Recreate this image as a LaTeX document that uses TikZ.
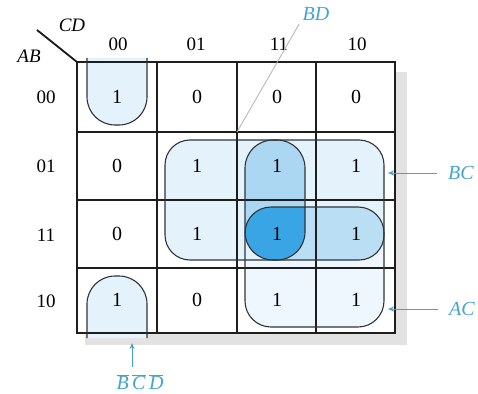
\documentclass[tikz,border=0pt]{standalone}
\usepackage{fontspec}
\setmainfont{Liberation Serif}
\usetikzlibrary{arrows.meta}
\definecolor{gridc}{HTML}{1E1E1E}
\definecolor{loopc}{HTML}{2F3338}
\definecolor{fillA}{HTML}{E4F2FB}
\definecolor{fillB}{HTML}{EDF7FD}
\definecolor{fillV}{HTML}{ABD7F2}
\definecolor{fillH}{HTML}{BADFF5}
\definecolor{fillX}{HTML}{3AA5E5}
\definecolor{labc}{HTML}{45A5CC}
\definecolor{shadc}{HTML}{E2E2E2}
\begin{document}
\begin{tikzpicture}[x=1pt,y=-1pt,
  gridline/.style={draw=gridc,line width=1.3pt},
  loopline/.style={draw=loopc,line width=1.1pt},
  cellnum/.style={font=\fontsize{20}{22}\selectfont},
  axisnum/.style={font=\fontsize{19}{22}\selectfont},
  grplabel/.style={text=labc,font=\fontsize{20}{22}\selectfont\itshape},
  lblarrow/.style={draw=labc,line width=0.9pt,-{Stealth[length=6pt,width=5pt]}}]
\useasboundingbox (0,0) rectangle (478,393);
% shadow
\fill[shadc] (395,72) rectangle (407,345);
\fill[shadc] (85,333) rectangle (407,345);
% fills
\fill[fillB,rounded corners=26pt] (245,207) rectangle (384,327);
\fill[fillA,rounded corners=25pt] (165,140) rectangle (384,260);
\fill[fillV,rounded corners=28pt] (245,140) rectangle (305,260);
\fill[fillH,rounded corners=26pt] (245,207) rectangle (384,260);
\begin{scope}
  \clip[rounded corners=28pt] (245,140) rectangle (305,260);
  \fill[fillX,rounded corners=26pt] (245,207) rectangle (384,260);
\end{scope}
\fill[fillA,rounded corners=28pt] (87,58) -- (87,125) -- (147,125) -- (147,58);
\fill[fillA,rounded corners=28pt] (87,338) -- (87,276) -- (147,276) -- (147,338);
% grid
\foreach \x in {157,237,316} \draw[gridline] (\x,62) -- (\x,333);
\foreach \y in {132,200,268} \draw[gridline] (77,\y) -- (395,\y);
\draw[gridc,line width=1.8pt] (77,62) rectangle (395,333);
% loop outlines
\draw[loopline,rounded corners=25pt] (165,140) rectangle (384,260);
\draw[loopline,rounded corners=28pt] (245,140) rectangle (305,260);
\draw[loopline,rounded corners=26pt] (245,207) rectangle (384,327);
\draw[loopline,rounded corners=28pt] (87,58) -- (87,125) -- (147,125) -- (147,58);
\draw[loopline,rounded corners=28pt] (87,338) -- (87,276) -- (147,276) -- (147,338);
% corner labels
\coordinate (diagA) at (37,30);
\coordinate (corner) at (77,62);
\draw[gridc,line width=1.8pt] (diagA) -- (corner);
\node[font=\fontsize{19}{22}\selectfont\itshape] (CD) at (72,25) {CD};
\node[font=\fontsize{19}{22}\selectfont\itshape] (AB) at (29,56) {AB};
% column labels
\node[axisnum] (col00) at (118,44) {00};
\node[axisnum] (col01) at (196,44) {01};
\node[axisnum] (col11) at (279,44) {11};
\node[axisnum] (col10) at (357,44) {10};
% row labels
\node[axisnum] (row00) at (46,97) {00};
\node[axisnum] (row01) at (46,166) {01};
\node[axisnum] (row11) at (46,235) {11};
\node[axisnum] (row10) at (46,301) {10};
% cells
\node[cellnum] (m00) at (117,97) {1};
\node[cellnum] (m01) at (197,97) {0};
\node[cellnum] (m03) at (277,97) {0};
\node[cellnum] (m02) at (356,97) {0};
\node[cellnum] (m10) at (117,166) {0};
\node[cellnum] (m11) at (197,166) {1};
\node[cellnum] (m13) at (277,166) {1};
\node[cellnum] (m12) at (356,166) {1};
\node[cellnum] (m30) at (117,234) {0};
\node[cellnum] (m31) at (197,234) {1};
\node[cellnum] (m33) at (277,234) {1};
\node[cellnum] (m32) at (356,234) {1};
\node[cellnum] (m20) at (117,300) {1};
\node[cellnum] (m21) at (197,300) {0};
\node[cellnum] (m23) at (277,300) {1};
\node[cellnum] (m22) at (356,300) {1};
% group labels
\node[grplabel] (BD) at (316,14) {BD};
\coordinate (bdpt) at (237,132);
\draw[draw=gray!60,line width=0.8pt] (bdpt) -- (BD.south west);
\node[grplabel] (BC) at (461,173) {BC};
\coordinate (bcend) at (388,173);
\draw[lblarrow,shorten <=8pt] (BC.west) -- (bcend);
\node[grplabel] (AC) at (462,309) {AC};
\coordinate (acend) at (388,309);
\draw[lblarrow,shorten <=8pt] (AC.west) -- (acend);
\node[grplabel] (BCD) at (140,382) {$\overline{\mbox{\itshape B}}\,\overline{\mbox{\itshape C}}\,\overline{\mbox{\itshape D}}$};
\coordinate (bcdend) at (132,343);
\draw[lblarrow,shorten <=4pt] (BCD.north -| bcdend) -- (bcdend);
\end{tikzpicture}
\end{document}
